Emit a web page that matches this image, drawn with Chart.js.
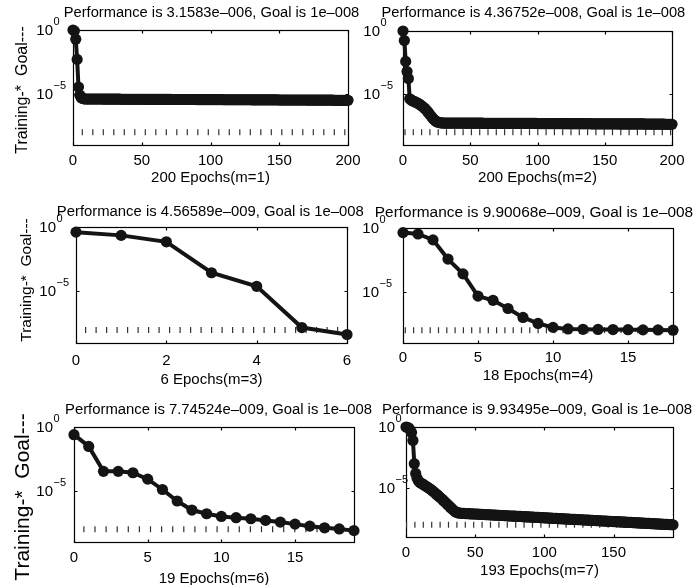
<!DOCTYPE html>
<html>
<head>
<meta charset="utf-8">
<script src="https://cdn.jsdelivr.net/npm/chart.js@4.4.0/dist/chart.umd.min.js"></script>
<style>
  html, body { margin: 0; padding: 0; background: #fff; }
  #wrap { position: relative; width: 696px; height: 585px; overflow: hidden; }
  #wrap canvas { position: absolute; left: 0; top: 0; }
</style>
</head>
<body>
<div id="wrap"></div>
<script>
// training performance, log10 of mse per epoch
const perfM1 = [
  0, -0.08, -0.72, -2.3, -4.46, -5.1, -5.3, -5.36, -5.39, -5.4,
  -5.40, -5.40, -5.40, -5.40, -5.40, -5.40, -5.40, -5.40, -5.40, -5.40,
  -5.40, -5.40, -5.41, -5.41, -5.41, -5.41, -5.41, -5.41, -5.41, -5.41,
  -5.41, -5.41, -5.41, -5.41, -5.41, -5.42, -5.42, -5.42, -5.42, -5.42,
  -5.42, -5.42, -5.42, -5.42, -5.42, -5.42, -5.42, -5.42, -5.42, -5.42,
  -5.42, -5.42, -5.42, -5.43, -5.43, -5.43, -5.43, -5.43, -5.43, -5.43,
  -5.43, -5.43, -5.43, -5.43, -5.43, -5.43, -5.43, -5.43, -5.43, -5.43,
  -5.43, -5.43, -5.44, -5.44, -5.44, -5.44, -5.44, -5.44, -5.44, -5.44,
  -5.44, -5.44, -5.44, -5.44, -5.44, -5.44, -5.44, -5.44, -5.44, -5.44,
  -5.45, -5.45, -5.45, -5.45, -5.45, -5.45, -5.45, -5.45, -5.45, -5.45,
  -5.45, -5.45, -5.45, -5.45, -5.45, -5.45, -5.45, -5.45, -5.45, -5.45,
  -5.46, -5.46, -5.46, -5.46, -5.46, -5.46, -5.46, -5.46, -5.46, -5.46,
  -5.46, -5.46, -5.46, -5.46, -5.46, -5.46, -5.46, -5.46, -5.46, -5.46,
  -5.47, -5.47, -5.47, -5.47, -5.47, -5.47, -5.47, -5.47, -5.47, -5.47,
  -5.47, -5.47, -5.47, -5.47, -5.47, -5.47, -5.47, -5.47, -5.47, -5.47,
  -5.48, -5.48, -5.48, -5.48, -5.48, -5.48, -5.48, -5.48, -5.48, -5.48,
  -5.48, -5.48, -5.48, -5.48, -5.48, -5.48, -5.48, -5.48, -5.48, -5.48,
  -5.49, -5.49, -5.49, -5.49, -5.49, -5.49, -5.49, -5.49, -5.49, -5.49,
  -5.49, -5.49, -5.49, -5.49, -5.49, -5.49, -5.49, -5.49, -5.49, -5.49,
  -5.50, -5.50, -5.50, -5.50, -5.50, -5.50, -5.50, -5.50, -5.50, -5.50,
  -5.50
];
const perfM2 = [
  0, -0.75, -2.4, -3.2, -3.75, -5.35, -5.45, -5.5, -5.55, -5.6,
  -5.65, -5.7, -5.77, -5.84, -5.92, -6.0, -6.1, -6.21, -6.33, -6.46,
  -6.6, -6.74, -6.87, -6.99, -7.09, -7.16, -7.2, -7.23, -7.25, -7.26,
  -7.27, -7.27, -7.27, -7.27, -7.27, -7.27, -7.27, -7.27, -7.27, -7.27,
  -7.27, -7.27, -7.27, -7.27, -7.27, -7.28, -7.28, -7.28, -7.28, -7.28,
  -7.28, -7.28, -7.28, -7.28, -7.28, -7.28, -7.28, -7.28, -7.28, -7.28,
  -7.29, -7.29, -7.29, -7.29, -7.29, -7.29, -7.29, -7.29, -7.29, -7.29,
  -7.29, -7.29, -7.29, -7.29, -7.29, -7.29, -7.29, -7.29, -7.29, -7.29,
  -7.30, -7.30, -7.30, -7.30, -7.30, -7.30, -7.30, -7.30, -7.30, -7.30,
  -7.30, -7.30, -7.30, -7.30, -7.30, -7.30, -7.30, -7.30, -7.30, -7.30,
  -7.31, -7.31, -7.31, -7.31, -7.31, -7.31, -7.31, -7.31, -7.31, -7.31,
  -7.31, -7.31, -7.31, -7.31, -7.31, -7.31, -7.31, -7.31, -7.31, -7.31,
  -7.32, -7.32, -7.32, -7.32, -7.32, -7.32, -7.32, -7.32, -7.32, -7.32,
  -7.32, -7.32, -7.32, -7.32, -7.32, -7.32, -7.32, -7.32, -7.32, -7.32,
  -7.33, -7.33, -7.33, -7.33, -7.33, -7.33, -7.33, -7.33, -7.33, -7.33,
  -7.33, -7.33, -7.33, -7.33, -7.33, -7.33, -7.33, -7.33, -7.33, -7.33,
  -7.34, -7.34, -7.34, -7.34, -7.34, -7.34, -7.34, -7.34, -7.34, -7.34,
  -7.34, -7.34, -7.34, -7.34, -7.34, -7.34, -7.34, -7.34, -7.34, -7.34,
  -7.35, -7.35, -7.35, -7.35, -7.35, -7.35, -7.35, -7.35, -7.35, -7.35,
  -7.35, -7.35, -7.35, -7.35, -7.35, -7.36, -7.36, -7.36, -7.36, -7.36,
  -7.36
];
const perfM3 = [-0.4, -0.65, -1.15, -3.55, -4.6, -7.8, -8.34];
const perfM4 = [
  -0.36, -0.47, -0.93, -2.43, -3.59, -5.33, -5.66, -6.3, -7.0, -7.47,
  -7.78, -7.9, -7.93, -7.94, -7.95, -7.96, -7.97, -7.98, -8.0
];
const perfM6 = [
  -0.6, -1.52, -3.47, -3.47, -3.58, -4.08, -4.89, -5.79, -6.5, -6.79,
  -7.0, -7.1, -7.18, -7.31, -7.44, -7.6, -7.76, -7.89, -7.98, -8.11
];
const perfM7 = [
  0, -0.02, -0.08, -0.25, -0.45, -1.1, -3.0, -3.8, -4.2, -4.42,
  -4.52, -4.6, -4.67, -4.74, -4.82, -4.89, -4.96, -5.04, -5.12, -5.21,
  -5.3, -5.4, -5.5, -5.6, -5.7, -5.8, -5.9, -6.01, -6.12, -6.23,
  -6.34, -6.45, -6.56, -6.67, -6.78, -6.88, -6.95, -7.0, -7.03, -7.05,
  -7.06,
  -7.07, -7.07, -7.08, -7.09, -7.09, -7.10, -7.10, -7.11, -7.12, -7.12,
  -7.13, -7.13, -7.14, -7.15, -7.15, -7.16, -7.17, -7.17, -7.18, -7.18,
  -7.19, -7.20, -7.20, -7.21, -7.21, -7.22, -7.23, -7.23, -7.24, -7.24,
  -7.25, -7.26, -7.26, -7.27, -7.28, -7.28, -7.29, -7.29, -7.30, -7.31,
  -7.31, -7.32, -7.32, -7.33, -7.34, -7.34, -7.35, -7.36, -7.36, -7.37,
  -7.37, -7.38, -7.39, -7.39, -7.40, -7.40, -7.41, -7.42, -7.42, -7.43,
  -7.43, -7.44, -7.45, -7.45, -7.46, -7.47, -7.47, -7.48, -7.48, -7.49,
  -7.50, -7.50, -7.51, -7.51, -7.52, -7.53, -7.53, -7.54, -7.55, -7.55,
  -7.56, -7.56, -7.57, -7.58, -7.58, -7.59, -7.59, -7.60, -7.61, -7.61,
  -7.62, -7.62, -7.63, -7.64, -7.64, -7.65, -7.66, -7.66, -7.67, -7.67,
  -7.68, -7.69, -7.69, -7.70, -7.70, -7.71, -7.72, -7.72, -7.73, -7.74,
  -7.74, -7.75, -7.75, -7.76, -7.77, -7.77, -7.78, -7.78, -7.79, -7.80,
  -7.80, -7.81, -7.81, -7.82, -7.83, -7.83, -7.84, -7.85, -7.85, -7.86,
  -7.86, -7.87, -7.88, -7.88, -7.89, -7.89, -7.90, -7.91, -7.91, -7.92,
  -7.92, -7.93, -7.94, -7.94, -7.95, -7.96, -7.96, -7.97, -7.97, -7.98,
  -7.99, -7.99, -8.00
];

const goalValue = 1e-8;
const yMin = 1e-9;
const yMax = 1;
const yTickValues = [1e-5, 1];

const titleTexts = [
  'Performance is 3.1583e\u2013006, Goal is 1e\u2013008',
  'Performance is 4.36752e\u2013008, Goal is 1e\u2013008',
  'Performance is 4.56589e\u2013009, Goal is 1e\u2013008',
  'Performance is 9.90068e\u2013009, Goal is 1e\u2013008',
  'Performance is 7.74524e\u2013009, Goal is 1e\u2013008',
  'Performance is 9.93495e\u2013009, Goal is 1e\u2013008'
];
const xTitles = ['200 Epochs(m=1)', '200 Epochs(m=2)', '6 Epochs(m=3)',
                 '18 Epochs(m=4)', '19 Epochs(m=6)', '193 Epochs(m=7)'];
const xMaxes = [200, 200, 6, 18, 19, 193];
const xSteps = [50, 50, 2, 5, 5, 50];
const yAxisText = 'Training-*  Goal---';

// layout of each subplot on the 696x585 page
const FONT = '"Liberation Sans", Arial, Helvetica, sans-serif';
const INK = '#141414';
const panels = [
  { perf: perfM1, area: [73, 30, 348, 145], tickPad: 6.4, boxBottom: 186.5,
    title: [211.5, 12.8, 14.7], dash: [1.2, 9.3], dashStart: 8.7, baseRight: 53,
    yLabel: [23, 90, 16] },
  { perf: perfM2, area: [403, 31, 672, 145], tickPad: 6.8, boxBottom: 186.5,
    title: [533.4, 13, 14.7], dash: [1.2, 7.1], dashStart: 9.7, baseRight: 380 },
  { perf: perfM3, area: [76, 227, 347, 343], tickPad: 9, boxBottom: 389,
    title: [210.3, 211.7, 14.85], dash: [1.2, 9.3], dashStart: 9, baseRight: 56,
    yLabel: [26.7, 280, 15.5] },
  { perf: perfM4, area: [403, 228, 673, 343], tickPad: 5.5, boxBottom: 384.8,
    title: [534, 213, 15.4], dash: [1.2, 7.1], dashStart: 10, baseRight: 379 },
  { perf: perfM6, area: [74, 427, 354, 542], tickPad: 6.5, boxBottom: 588,
    title: [218.5, 410, 14.85], dash: [1.2, 9.9], dashStart: 9.3, baseRight: 53,
    yLabel: [23, 497, 21] },
  { perf: perfM7, area: [406, 427, 673, 537], tickPad: 6.5, boxBottom: 579.8,
    title: [537, 410, 15], dash: [1.2, 7.2], dashStart: 8.3, baseRight: 395 }
];

function matlabAxes(p, idx) {
  return {
    id: 'matlabAxes' + idx,
    beforeDatasetsDraw(chart) {
      const { ctx, chartArea: a, scales: { x, y } } = chart;
      const l = Math.round(a.left) + 0.5, r = Math.round(a.right) + 0.5;
      const t = Math.round(a.top) + 0.5, b = Math.round(a.bottom) + 0.5;
      ctx.save();
      ctx.strokeStyle = '#000';
      ctx.lineWidth = 1.2;
      ctx.strokeRect(l, t, r - l, b - t);
      ctx.beginPath();
      x.ticks.forEach(tk => {
        const px = Math.round(x.getPixelForValue(tk.value)) + 0.5;
        ctx.moveTo(px, b); ctx.lineTo(px, b - 3);
        ctx.moveTo(px, t); ctx.lineTo(px, t + 3);
      });
      y.ticks.forEach(tk => {
        const py = Math.round(y.getPixelForValue(tk.value)) + 0.5;
        ctx.moveTo(l, py); ctx.lineTo(l + 3, py);
        ctx.moveTo(r, py); ctx.lineTo(r - 3, py);
      });
      ctx.stroke();
      ctx.restore();
    },
    afterDraw(chart) {
      const { ctx, scales: { y } } = chart;
      ctx.save();
      ctx.fillStyle = '#000';
      // log tick labels as 10 with a raised exponent
      y.ticks.forEach(tk => {
        const py = y.getPixelForValue(tk.value);
        const e = Math.round(Math.log10(tk.value));
        ctx.font = '15px ' + FONT;
        ctx.textAlign = 'right';
        ctx.textBaseline = 'middle';
        ctx.fillText('10', p.baseRight, py + 0.5);
        ctx.font = '11px ' + FONT;
        ctx.textAlign = 'left';
        ctx.fillText(e < 0 ? '\u2212' + (-e) : String(e), p.baseRight + 0.5, py - 8);
      });
      // title
      ctx.font = p.title[2] + 'px ' + FONT;
      ctx.textAlign = 'center';
      ctx.textBaseline = 'middle';
      ctx.fillText(titleTexts[idx], p.title[0], p.title[1]);
      // y axis label
      if (p.yLabel) {
        ctx.translate(p.yLabel[0], p.yLabel[1]);
        ctx.rotate(-Math.PI / 2);
        ctx.font = p.yLabel[2] + 'px ' + FONT;
        ctx.fillText(yAxisText, 0, 0);
      }
      ctx.restore();
    }
  };
}

const wrap = document.getElementById('wrap');

panels.forEach((p, idx) => {
  const cv = document.createElement('canvas');
  cv.width = 696;
  cv.height = 585;
  cv.style.width = '696px';
  cv.style.height = '585px';
  wrap.appendChild(cv);
  const [L, T, R, B] = p.area;
  const period = p.dash[0] + p.dash[1];

  new Chart(cv.getContext('2d'), {
    type: 'line',
    data: {
      datasets: [
        {
          label: 'Training',
          data: p.perf.map((v, i) => ({ x: i, y: Math.pow(10, v) })),
          borderColor: INK,
          backgroundColor: INK,
          borderWidth: 4,
          pointRadius: 5.6,
          pointBorderWidth: 0,
          pointHoverRadius: 5.6,
          tension: 0,
          clip: false,
          order: 0
        },
        {
          label: 'Goal',
          data: [{ x: 0, y: goalValue }, { x: xMaxes[idx], y: goalValue }],
          borderColor: '#333333',
          borderWidth: 6,
          borderCapStyle: 'butt',
          borderDash: p.dash,
          borderDashOffset: period - p.dashStart,
          pointRadius: 0,
          clip: false,
          order: 1
        }
      ]
    },
    options: {
      responsive: false,
      animation: false,
      devicePixelRatio: 1,
      events: [],
      layout: { padding: { left: 0, top: T, right: 696 - R, bottom: 585 - p.boxBottom } },
      plugins: {
        legend: { display: false },
        tooltip: { enabled: false },
        title: { display: false }
      },
      scales: {
        x: {
          type: 'linear',
          min: 0,
          max: xMaxes[idx],
          grid: { display: false, drawTicks: false },
          border: { display: false },
          ticks: {
            stepSize: xSteps[idx],
            includeBounds: false,
            autoSkip: false,
            maxRotation: 0,
            padding: p.tickPad,
            color: '#000',
            font: { family: FONT, size: 15 }
          },
          title: {
            display: true,
            text: xTitles[idx],
            color: '#000',
            font: { family: FONT, size: 15 },
            padding: 0
          },
          afterFit: s => { s.height = p.boxBottom - B; }
        },
        y: {
          type: 'logarithmic',
          min: yMin,
          max: yMax,
          grid: { display: false, drawTicks: false },
          border: { display: false },
          ticks: { display: false },
          afterBuildTicks: s => { s.ticks = yTickValues.map(v => ({ value: v })); },
          afterFit: s => { s.width = L; }
        }
      }
    },
    plugins: [matlabAxes(p, idx)]
  });
});
</script>
</body>
</html>
